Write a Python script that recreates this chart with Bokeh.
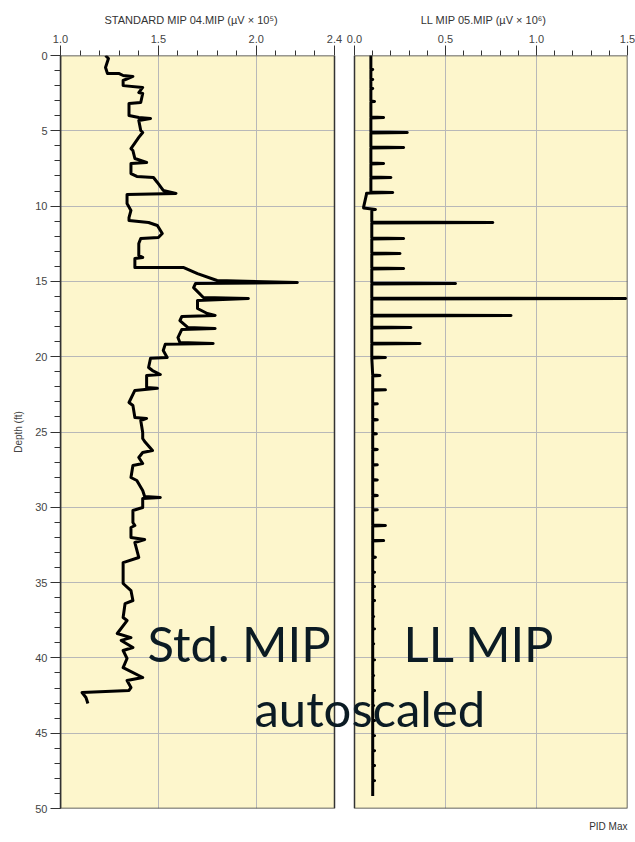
from bokeh.plotting import figure
from bokeh.models import (Range1d, FixedTicker, BoxAnnotation, Label, Title,
                          CustomJSTickFormatter, ColumnDataSource)
from bokeh.embed import file_html
from bokeh.resources import INLINE

# ---------------- data ----------------
std_depth = [0.0, 0.2, 0.8, 1.2, 1.2, 1.33, 1.39, 1.66, 2.0, 2.12,
             2.46, 2.52, 3.12, 3.19, 3.98, 4.12, 4.18, 4.32, 4.98, 5.11,
             5.44, 6.18, 6.31, 6.84, 7.1, 7.17, 7.84, 8.03, 8.1, 8.43,
             8.96, 9.16, 9.23, 9.83, 10.29, 10.76, 10.96, 11.09, 11.29, 11.82,
             12.09, 12.15, 12.48, 13.28, 13.41, 13.48, 14.08, 14.08, 14.48, 14.94,
             15.07, 15.14, 15.41, 16.07, 16.14, 16.27, 16.8, 17.13, 17.26, 17.33,
             17.6, 18.06, 18.13, 18.19, 18.73, 19.06, 19.12, 19.18, 19.59, 20.05,
             20.1, 20.72, 20.92, 21.18, 21.25, 22.05, 22.1, 22.24, 23.04, 23.24,
             24.04, 24.1, 24.24, 25.03, 25.43, 25.63, 26.23, 26.36, 26.69, 27.09,
             27.22, 28.02, 28.22, 28.88, 29.28, 29.35, 29.42, 30.01, 30.21, 31.01,
             31.21, 31.34, 32.0, 32.14, 32.34, 33.33, 33.67, 34.4, 35.06, 35.53,
             36.19, 36.39, 37.32, 37.52, 38.38, 38.65, 38.84, 39.31, 39.51, 40.04,
             40.64, 41.3, 41.5, 41.97, 42.16, 42.3, 42.63, 43.03]
std_value = [1.23, 1.245, 1.23, 1.24, 1.30, 1.32, 1.37, 1.32, 1.32, 1.42,
             1.40, 1.42, 1.41, 1.35, 1.35, 1.40, 1.46, 1.40, 1.41, 1.42,
             1.40, 1.36, 1.37, 1.38, 1.44, 1.36, 1.36, 1.39, 1.475, 1.495,
             1.525, 1.59, 1.34, 1.34, 1.36, 1.35, 1.35, 1.45, 1.495, 1.52,
             1.50, 1.41, 1.40, 1.40, 1.42, 1.38, 1.38, 1.63, 1.70, 1.80,
             2.21, 1.69, 1.68, 1.73, 1.96, 1.70, 1.70, 1.75, 1.79, 1.62,
             1.61, 1.65, 1.79, 1.62, 1.60, 1.61, 1.78, 1.535, 1.525, 1.545,
             1.46, 1.45, 1.47, 1.51, 1.44, 1.44, 1.495, 1.38, 1.35, 1.37,
             1.38, 1.44, 1.41, 1.42, 1.42, 1.43, 1.47, 1.42, 1.40, 1.42,
             1.37, 1.36, 1.39, 1.42, 1.43, 1.51, 1.42, 1.42, 1.37, 1.37,
             1.38, 1.36, 1.36, 1.43, 1.38, 1.40, 1.32, 1.32, 1.32, 1.36,
             1.37, 1.33, 1.32, 1.34, 1.29, 1.36, 1.31, 1.37, 1.32, 1.34,
             1.32, 1.42, 1.34, 1.36, 1.35, 1.11, 1.13, 1.14]

ll_depth = [0.0, 0.93, 1.59, 2.19, 3.05, 4.12, 5.11, 6.11, 7.17, 8.1,
            9.1, 9.18, 10.1, 10.22, 11.09, 12.15, 13.15, 14.14, 15.14, 16.14,
            17.26, 18.06, 19.12, 20.05, 21.25, 22.2, 23.13, 24.19, 25.12, 26.16,
            27.18, 28.18, 29.22, 30.17, 31.21, 32.21, 33.32, 34.31, 35.26, 36.19,
            37.25, 38.07, 39.07, 40.13, 41.17, 42.17, 43.16, 44.16, 45.16, 46.16,
            47.15, 48.15, 49.14]
ll_peak = [0.09, 0.10, 0.10, 0.10, 0.11, 0.16, 0.29, 0.27, 0.16, 0.20,
           0.21, 0.066, 0.05, 0.115, 0.76, 0.27, 0.25, 0.27, 0.555, 1.49,
           0.86, 0.31, 0.36, 0.17, 0.14, 0.17, 0.125, 0.125, 0.12, 0.125,
           0.125, 0.125, 0.125, 0.125, 0.17, 0.16, 0.115, 0.11, 0.11, 0.11,
           0.105, 0.11, 0.105, 0.11, 0.105, 0.11, 0.105, 0.11, 0.11, 0.11,
           0.11, 0.11, 0.10]
ll_base = [0.09, 0.09, 0.09, 0.09, 0.09, 0.09, 0.09, 0.09, 0.09, 0.09,
           0.09, 0.066, 0.05, 0.095, 0.095, 0.095, 0.095, 0.095, 0.095, 0.095,
           0.095, 0.095, 0.095, 0.095, 0.10, 0.10, 0.10, 0.10, 0.10, 0.10,
           0.10, 0.10, 0.10, 0.10, 0.10, 0.10, 0.10, 0.10, 0.10, 0.10,
           0.10, 0.10, 0.10, 0.10, 0.10, 0.10, 0.10, 0.10, 0.10, 0.10,
           0.10, 0.10, 0.10]

std_ticks = [1.0, 1.5, 2.0, 2.4]
std_tick_labels = ["1.0", "1.5", "2.0", "2.4"]
std_minor = [1.1, 1.2, 1.3, 1.4, 1.6, 1.7, 1.8, 1.9, 2.1, 2.2, 2.3]
ll_ticks = [0.0, 0.5, 1.0, 1.5]
ll_tick_labels = ["0.0", "0.5", "1.0", "1.5"]
ll_minor = [0.1, 0.2, 0.3, 0.4, 0.6, 0.7, 0.8, 0.9, 1.1, 1.2, 1.3, 1.4]
depth_ticks = [0, 5, 10, 15, 20, 25, 30, 35, 40, 45, 50]
depth_minor = list(range(0, 51))

std_title = "STANDARD MIP 04.MIP (µV × 10⁵)"
ll_title = "LL MIP 05.MIP (µV × 10⁶)"

# ---------------- layout ----------------
LEFT_PX, GAP_PX, RIGHT_PX = 274, 20, 273
FRAME_W = LEFT_PX + GAP_PX + RIGHT_PX
FRAME_H = 753
BL, BR, BT, BB = 60, 8, 55, 34
W = BL + FRAME_W + BR
H = BT + FRAME_H + BB

std_lo, std_hi = std_ticks[0], std_ticks[-1]
ll_lo, ll_hi = ll_ticks[0], ll_ticks[-1]
std_per_px = (std_hi - std_lo) / LEFT_PX
ll_per_px = (ll_hi - ll_lo) / RIGHT_PX


def ll_to_std(v):
    return std_lo + (LEFT_PX + GAP_PX + (v - ll_lo) / ll_per_px) * std_per_px


def px_to_std(px):  # px measured from frame left
    return std_lo + px * std_per_px


PX_PER_FT = FRAME_H / 50.0


def py_to_depth(py):  # py measured from frame top
    return py / PX_PER_FT


YELLOW = "#fdf6cc"
DARK = "#333333"
GRID = "#b8b8b8"
TXT = "#0b1b24"

p = figure(width=W, height=H, output_backend="svg", toolbar_location=None,
           x_range=Range1d(std_lo, std_lo + FRAME_W * std_per_px),
           y_range=Range1d(50, 0), x_axis_location="above",
           min_border_left=BL, min_border_right=BR,
           min_border_top=BT, min_border_bottom=BB)
p.extra_x_ranges = {"ll": Range1d(ll_lo - (LEFT_PX + GAP_PX) * ll_per_px, ll_hi)}
p.background_fill_color = "white"
p.border_fill_color = "white"
p.outline_line_color = None

# panel titles (one title row, the two texts separated by em spaces)
p.title.text = std_title + "\u2003" * 13 + ll_title
p.title.align = "left"
p.title.offset = 44
p.title.text_font = "Liberation Sans"
p.title.text_font_size = "11px"
p.title.text_font_style = "normal"
p.title.text_color = "#333333"
p.title.standoff = 12

p.add_layout(Title(text="PID Max", align="right", text_font="Liberation Sans",
                   text_font_size="10px", text_font_style="normal",
                   text_color="#333333", standoff=21), "below")

# axes
all_pos = std_ticks + [ll_to_std(v) for v in ll_ticks]
all_lab = std_tick_labels + ll_tick_labels
xa = p.xaxis[0]
xa.ticker = FixedTicker(ticks=all_pos,
                        minor_ticks=std_minor + [ll_to_std(v) for v in ll_minor])
xa.formatter = CustomJSTickFormatter(args=dict(pos=all_pos, labels=all_lab), code="""
let best = 0;
for (let i = 0; i < pos.length; i++) {
  if (Math.abs(pos[i] - tick) < Math.abs(pos[best] - tick)) best = i;
}
return labels[best];
""")
xa.axis_line_color = None
xa.major_tick_out = 10
xa.major_tick_in = 0
xa.minor_tick_out = 5
xa.minor_tick_in = 0
xa.major_tick_line_color = DARK
xa.minor_tick_line_color = DARK
xa.major_label_standoff = 3
xa.major_label_text_font = "Liberation Sans"
xa.major_label_text_font_size = "11px"
xa.major_label_text_color = "#444444"

ya = p.yaxis[0]
ya.ticker = FixedTicker(ticks=depth_ticks, minor_ticks=depth_minor)
ya.axis_label = "Depth (ft)"
ya.axis_label_text_font = "Liberation Sans"
ya.axis_label_text_font_size = "10px"
ya.axis_label_text_font_style = "normal"
ya.axis_label_text_color = "#444444"
ya.axis_label_standoff = 8
ya.axis_line_color = DARK
ya.axis_line_width = 1.5
ya.major_tick_out = 10
ya.major_tick_in = 0
ya.minor_tick_out = 6
ya.minor_tick_in = 0
ya.major_tick_line_color = DARK
ya.minor_tick_line_color = DARK
ya.major_label_standoff = 3
ya.major_label_text_font = "Liberation Sans"
ya.major_label_text_font_size = "11px"
ya.major_label_text_color = "#444444"

# grids
p.xgrid.ticker = FixedTicker(ticks=[1.5, 2.0, ll_to_std(0.5), ll_to_std(1.0)])
p.ygrid.ticker = FixedTicker(ticks=depth_ticks[1:-1])
p.xgrid.grid_line_color = GRID
p.ygrid.grid_line_color = GRID
p.xgrid.grid_line_width = 1
p.ygrid.grid_line_width = 1

# panel backgrounds, gap and outlines
for lft, rgt in [(std_lo, std_hi), (ll_to_std(ll_lo), ll_to_std(ll_hi))]:
    p.add_layout(BoxAnnotation(left=lft, right=rgt, fill_color=YELLOW, fill_alpha=1,
                               line_color=None, level="image"))
    p.add_layout(BoxAnnotation(left=lft, right=rgt, fill_alpha=0, line_color=DARK,
                               line_alpha=1, line_width=1.5, level="annotation"))
p.add_layout(BoxAnnotation(left=std_hi, right=ll_to_std(ll_lo), fill_color="white",
                           fill_alpha=1, line_color=None, level="glyph"))

# traces
p.line("x", "y", source=ColumnDataSource(dict(x=std_value, y=std_depth)),
       line_color="black", line_width=3, line_join="round")

ll_x, ll_y = [], []
for d, pk, b in zip(ll_depth, ll_peak, ll_base):
    ll_x += [b, pk, b]
    ll_y += [d - 0.03, d, d + 0.03]
p.line("x", "y", source=ColumnDataSource(dict(x=ll_x, y=ll_y)), x_range_name="ll",
       line_color="black", line_width=3, line_join="round")

# overlay annotations
big = dict(text_font="Lato", text_font_size="49px", text_color=TXT,
           text_baseline="middle", text_align="left")
p.add_layout(Label(x=px_to_std(87), y=py_to_depth(587), text="Std. MIP", **big))
p.add_layout(Label(x=px_to_std(343), y=py_to_depth(587), text="LL MIP", **big))
p.add_layout(Label(x=px_to_std(194), y=py_to_depth(652), text="autoscaled", **big))

open("out.html", "w").write(file_html(p, INLINE))
